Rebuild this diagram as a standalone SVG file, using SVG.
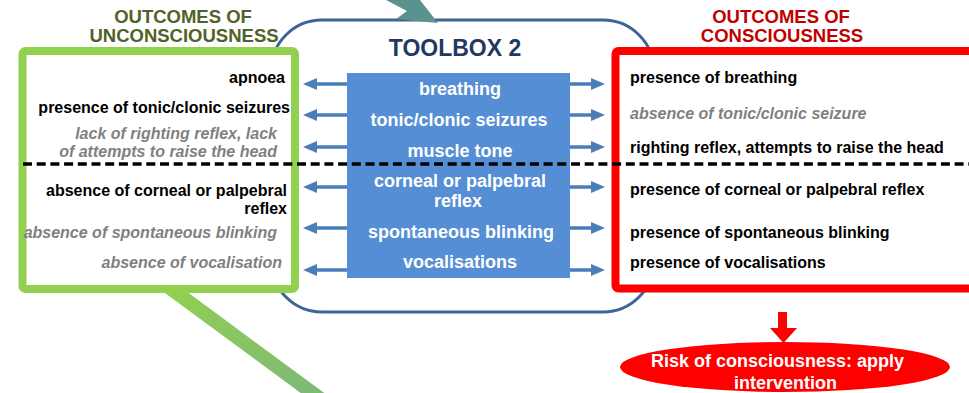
<svg xmlns="http://www.w3.org/2000/svg" xmlns:xlink="http://www.w3.org/1999/xlink" width="969" height="393" viewBox="0 0 969 393">
<style>
  text { font-family: "Liberation Sans", Arial, sans-serif; font-weight: bold; }
  .title { font-size: 18.5px; text-anchor: middle; }
  .g-title { fill: #4f6228; }
  .r-title { fill: #c00000; }
  .tb { font-size: 23px; fill: #1f3864; text-anchor: middle; }
  .mid { font-size: 18px; fill: #ffffff; text-anchor: middle; }
  .lt { font-size: 16px; fill: #000000; text-anchor: end; }
  .rt { font-size: 16px; fill: #000000; text-anchor: start; }
  .gray { fill: #808080; font-style: italic; }
  .ell { font-size: 18px; fill: #ffffff; text-anchor: middle; }
  .arrow { fill: #4a7ebb; }
</style>
<defs>
  <linearGradient id="gline" x1="0" y1="0" x2="1" y2="1">
    <stop offset="0" stop-color="#92d050"/>
    <stop offset="1" stop-color="#7db87a"/>
  </linearGradient>
  <path id="arrL" d="M0,0 L14,-6 L14,-1.8 L44,-1.8 L44,1.8 L14,1.8 L14,6 Z"/>
  <path id="arrR" d="M0,0 L-14,-6 L-14,-1.8 L-35,-1.8 L-35,1.8 L-14,1.8 L-14,6 Z"/>
</defs>

<!-- green diagonal band -->
<g id="green-band">
  <line x1="166" y1="285" x2="322" y2="400" stroke="url(#gline)" stroke-width="14"/>
</g>

<!-- toolbox -->
<g id="toolbox">
  <rect x="271" y="20" width="383" height="292" rx="51" ry="51" fill="#ffffff" stroke="#3e6497" stroke-width="3"/>
  <text class="tb" x="455" y="56">TOOLBOX 2</text>
</g>

<!-- teal arrow head at top -->
<g id="teal-arrow">
  <polygon points="386,0 407,11 396,19 438,23 420,0" fill="#5b918e"/>
</g>

<!-- unconsciousness box -->
<g id="unconscious">
  <rect x="22.5" y="51" width="272.5" height="238" rx="3" fill="#ffffff" stroke="#92d050" stroke-width="8"/>
  <text class="title g-title" x="183" y="23">OUTCOMES OF</text>
  <text class="title g-title" x="184" y="42">UNCONSCIOUSNESS</text>
  <text class="lt" x="285" y="82.5">apnoea</text>
  <text class="lt" x="290" y="113">presence of tonic/clonic seizures</text>
  <text class="lt gray" x="277" y="139">lack of righting reflex, lack</text>
  <text class="lt gray" x="277" y="157">of attempts to raise the head</text>
  <text class="lt" x="287" y="196">absence of corneal or palpebral</text>
  <text class="lt" x="287" y="214">reflex</text>
  <text class="lt gray" x="277" y="238">absence of spontaneous blinking</text>
  <text class="lt gray" x="282" y="268">absence of vocalisation</text>
</g>

<!-- consciousness box -->
<g id="conscious">
  <rect x="615.5" y="51" width="380" height="237.5" rx="3" fill="#ffffff" stroke="#ff0000" stroke-width="8"/>
  <text class="title r-title" x="781" y="23">OUTCOMES OF</text>
  <text class="title r-title" x="782" y="42">CONSCIOUSNESS</text>
  <text class="rt" x="630" y="82.5">presence of breathing</text>
  <text class="rt gray" x="630" y="119">absence of tonic/clonic seizure</text>
  <text class="rt" x="630" y="153">righting reflex, attempts to raise the head</text>
  <text class="rt" x="630" y="195">presence of corneal or palpebral reflex</text>
  <text class="rt" x="630" y="238">presence of spontaneous blinking</text>
  <text class="rt" x="630" y="268">presence of vocalisations</text>
</g>

<!-- central parameter box -->
<g id="parameters">
  <rect x="347" y="73" width="223" height="205" fill="#558ed5"/>
  <text class="mid" x="460" y="95">breathing</text>
  <text class="mid" x="459" y="125.5">tonic/clonic seizures</text>
  <text class="mid" x="460" y="156.5">muscle tone</text>
  <text class="mid" x="460" y="186.5">corneal  or palpebral</text>
  <text class="mid" x="458" y="206.5">reflex</text>
  <text class="mid" x="461" y="238">spontaneous blinking</text>
  <text class="mid" x="460" y="267.5">vocalisations</text>
</g>

<!-- connectors -->
<g id="connectors">
  <g class="arrow">
    <use xlink:href="#arrL" x="303" y="84"/>
    <use xlink:href="#arrL" x="303" y="115"/>
    <use xlink:href="#arrL" x="303" y="147"/>
    <use xlink:href="#arrL" x="303" y="187"/>
    <use xlink:href="#arrL" x="303" y="228"/>
    <use xlink:href="#arrL" x="303" y="270"/>
    <use xlink:href="#arrR" x="605" y="84"/>
    <use xlink:href="#arrR" x="605" y="115"/>
    <use xlink:href="#arrR" x="605" y="147"/>
    <use xlink:href="#arrR" x="605" y="187"/>
    <use xlink:href="#arrR" x="605" y="228"/>
    <use xlink:href="#arrR" x="605" y="270"/>
  </g>
  <line x1="23" y1="164" x2="969" y2="164" stroke="#000000" stroke-width="3.5" stroke-dasharray="9 4.7"/>
  <polygon points="778,312 787,312 787,328 797,328 783.5,343 770,328 778,328" fill="#ff0000"/>
</g>

<!-- risk ellipse -->
<g id="risk">
  <ellipse cx="785" cy="367" rx="165" ry="25" fill="#ff0000"/>
  <text class="ell" x="777.5" y="367">Risk of consciousness: apply</text>
  <text class="ell" x="785.5" y="389">intervention</text>
</g>
</svg>
